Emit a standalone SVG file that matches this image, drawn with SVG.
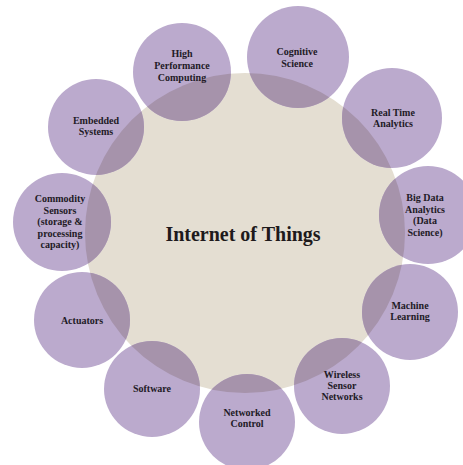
<svg xmlns="http://www.w3.org/2000/svg" xmlns:xlink="http://www.w3.org/1999/xlink" width="463" height="465" viewBox="0 0 463 465">
  <style>
    .bg { fill: #ffffff; }
    .hub { fill: #e4ded2; }
    .node { fill: #bbaacd; }
    .ov { fill: #a693ab; }
    .lbl { font-family: "Liberation Serif", "Times New Roman", serif; font-weight: bold; font-size: 10px; fill: #221a26; text-anchor: middle; }
    .title { font-family: "Liberation Serif", "Times New Roman", serif; font-weight: bold; font-size: 20px; fill: #1e1a1c; text-anchor: middle; }
  </style>
  <defs>
    <clipPath id="hub-clip">
      <circle cx="245" cy="233" r="160"/>
    </clipPath>
  </defs>
  <rect class="bg" x="0" y="0" width="463" height="465"/>

  <g id="hub">
    <circle class="hub" cx="245" cy="233" r="160"/>
    <text class="title" x="243" y="241">Internet of Things</text>
  </g>

  <g id="node-hpc">
    <circle class="node" cx="182" cy="72" r="49"/>
    <circle class="ov" cx="182" cy="72" r="49" clip-path="url(#hub-clip)"/>
    <text class="lbl" x="182" y="57">High</text>
    <text class="lbl" x="182" y="69">Performance</text>
    <text class="lbl" x="182" y="81">Computing</text>
  </g>

  <g id="node-cognitive">
    <circle class="node" cx="298" cy="57" r="51"/>
    <circle class="ov" cx="298" cy="57" r="51" clip-path="url(#hub-clip)"/>
    <text class="lbl" x="297" y="55">Cognitive</text>
    <text class="lbl" x="297" y="66.5">Science</text>
  </g>

  <g id="node-realtime">
    <circle class="node" cx="392" cy="118" r="50"/>
    <circle class="ov" cx="392" cy="118" r="50" clip-path="url(#hub-clip)"/>
    <text class="lbl" x="393" y="116">Real Time</text>
    <text class="lbl" x="393" y="127">Analytics</text>
  </g>

  <g id="node-bigdata">
    <circle class="node" cx="428" cy="215" r="49"/>
    <circle class="ov" cx="428" cy="215" r="49" clip-path="url(#hub-clip)"/>
    <text class="lbl" x="425" y="201">Big Data</text>
    <text class="lbl" x="425" y="212.5">Analytics</text>
    <text class="lbl" x="425" y="224">(Data</text>
    <text class="lbl" x="425" y="235.5">Science)</text>
  </g>

  <g id="node-ml">
    <circle class="node" cx="410" cy="312" r="48"/>
    <circle class="ov" cx="410" cy="312" r="48" clip-path="url(#hub-clip)"/>
    <text class="lbl" x="410" y="309">Machine</text>
    <text class="lbl" x="410" y="320">Learning</text>
  </g>

  <g id="node-wsn">
    <circle class="node" cx="342" cy="386" r="48"/>
    <circle class="ov" cx="342" cy="386" r="48" clip-path="url(#hub-clip)"/>
    <text class="lbl" x="342" y="378">Wireless</text>
    <text class="lbl" x="342" y="389">Sensor</text>
    <text class="lbl" x="342" y="400">Networks</text>
  </g>

  <g id="node-networked">
    <circle class="node" cx="247" cy="422" r="48"/>
    <circle class="ov" cx="247" cy="422" r="48" clip-path="url(#hub-clip)"/>
    <text class="lbl" x="247" y="416">Networked</text>
    <text class="lbl" x="247" y="427">Control</text>
  </g>

  <g id="node-software">
    <circle class="node" cx="152" cy="389" r="48"/>
    <circle class="ov" cx="152" cy="389" r="48" clip-path="url(#hub-clip)"/>
    <text class="lbl" x="152" y="392">Software</text>
  </g>

  <g id="node-actuators">
    <circle class="node" cx="82" cy="320" r="48"/>
    <circle class="ov" cx="82" cy="320" r="48" clip-path="url(#hub-clip)"/>
    <text class="lbl" x="82" y="324">Actuators</text>
  </g>

  <g id="node-commodity">
    <circle class="node" cx="62" cy="222" r="49"/>
    <circle class="ov" cx="62" cy="222" r="49" clip-path="url(#hub-clip)"/>
    <text class="lbl" x="60" y="202">Commodity</text>
    <text class="lbl" x="60" y="213.5">Sensors</text>
    <text class="lbl" x="60" y="225">(storage &amp;</text>
    <text class="lbl" x="60" y="236.5">processing</text>
    <text class="lbl" x="60" y="248">capacity)</text>
  </g>

  <g id="node-embedded">
    <circle class="node" cx="96" cy="127" r="48"/>
    <circle class="ov" cx="96" cy="127" r="48" clip-path="url(#hub-clip)"/>
    <text class="lbl" x="96" y="124">Embedded</text>
    <text class="lbl" x="96" y="135">Systems</text>
  </g>
</svg>
